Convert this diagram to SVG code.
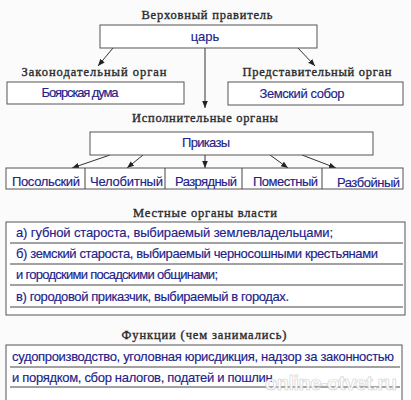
<svg xmlns="http://www.w3.org/2000/svg" width="411" height="400" viewBox="0 0 411 400">
<defs>
<marker id="ah" viewBox="0 0 10 10" refX="10" refY="5" markerWidth="7" markerHeight="7" orient="auto" markerUnits="userSpaceOnUse">
<path d="M0,1 L10,5 L0,9 Z" fill="#222"/>
</marker>
</defs>
<style>
.bg{fill:#fbfbfb}
.box{fill:#fff;stroke:#555;stroke-width:1}
.h{font-family:"Liberation Serif","DejaVu Serif",serif;font-size:12.5px;font-weight:normal;fill:#2a2a2a;stroke:#2a2a2a;stroke-width:0.35;text-anchor:middle}
.t{font-family:"Liberation Sans",Arial,sans-serif;font-size:13px;fill:#22228a;stroke:#22228a;stroke-width:0.15}
.c{text-anchor:middle}
.ln{stroke:#444;stroke-width:1}
.ar{stroke:#333;stroke-width:1;fill:none;marker-end:url(#ah)}
.wm{font-family:"Liberation Sans",Arial,sans-serif;font-size:20px;font-weight:bold;fill:#fff;stroke:#c8c8c8;stroke-width:0.6;opacity:0.9}
</style>
<rect class="bg" x="0" y="0" width="411" height="400"/>

<g id="headings">
<text class="h" x="207" y="19" textLength="131">Верховный правитель</text>
<text class="h" x="94" y="76" textLength="145">Законодательный орган</text>
<text class="h" x="317" y="76" textLength="149">Представительный орган</text>
<text class="h" x="205" y="122" textLength="146">Исполнительные органы</text>
<text class="h" x="205" y="217" textLength="144">Местные органы власти</text>
<text class="h" x="204" y="339" textLength="165">Функции (чем занимались)</text>
</g>

<g id="connectors">
<line class="ar" x1="113" y1="48" x2="98" y2="66"/>
<line class="ar" x1="298" y1="48" x2="315" y2="66"/>
<line class="ar" x1="205" y1="48" x2="205" y2="108"/>
<line class="ar" x1="110" y1="155" x2="72" y2="168"/>
<line class="ar" x1="143" y1="155" x2="127" y2="168"/>
<line class="ar" x1="205" y1="155" x2="205" y2="168"/>
<line class="ar" x1="270" y1="155" x2="288" y2="168"/>
<line class="ar" x1="302" y1="155" x2="336" y2="168"/>
</g>

<g id="tsar">
<rect class="box" x="100" y="25" width="217" height="23"/>
<text class="t c" x="205" y="41">царь</text>
</g>
<g id="boyar-duma">
<rect class="box" x="7" y="82" width="177" height="22"/>
<text class="t c" x="80" y="97" textLength="77">Боярская дума</text>
</g>
<g id="zemsky-sobor">
<rect class="box" x="228" y="82" width="175" height="23"/>
<text class="t c" x="302" y="98" textLength="85">Земский собор</text>
</g>
<g id="prikazy">
<rect class="box" x="90" y="132" width="283" height="23"/>
<text class="t c" x="206" y="147" textLength="48">Приказы</text>
</g>
<g id="prikazy-row">
<rect class="box" x="6" y="168" width="397" height="21"/>
<line class="ln" x1="85" y1="168" x2="85" y2="189"/>
<line class="ln" x1="165" y1="168" x2="165" y2="189"/>
<line class="ln" x1="242" y1="168" x2="242" y2="189"/>
<line class="ln" x1="322" y1="168" x2="322" y2="189"/>
<text class="t c" x="46" y="186" textLength="68">Посольский</text>
<text class="t c" x="126.5" y="186" textLength="73">Челобитный</text>
<text class="t c" x="206" y="186" textLength="62">Разрядный</text>
<text class="t c" x="285.5" y="186" textLength="65">Поместный</text>
<text class="t c" x="368.5" y="187" textLength="63">Разбойный</text>
</g>
<g id="local">
<rect class="box" x="6" y="222" width="399" height="93"/>
<line class="ln" x1="10" y1="243" x2="403" y2="243"/>
<line class="ln" x1="10" y1="264" x2="403" y2="264"/>
<line class="ln" x1="10" y1="285" x2="403" y2="285"/>
<line class="ln" x1="10" y1="307" x2="403" y2="307"/>
<text class="t" x="16" y="237" textLength="317">а) губной староста, выбираемый землевладельцами;</text>
<text class="t" x="16" y="258" textLength="362">б) земский староста, выбираемый черносошными крестьянами</text>
<text class="t" x="16" y="279" textLength="202">и городскими посадскими общинами;</text>
<text class="t" x="16" y="301" textLength="273">в) городовой приказчик, выбираемый в городах.</text>
</g>
<g id="functions">
<rect class="box" x="6" y="345" width="396" height="60"/>
<line class="ln" x1="10" y1="367" x2="400" y2="367"/>
<line class="ln" x1="10" y1="387" x2="400" y2="387"/>
<text class="t" x="12" y="361" textLength="382">судопроизводство, уголовная юрисдикция, надзор за законностью</text>
<text class="t" x="12" y="382" textLength="264">и порядком, сбор налогов, податей и пошлин.</text>
</g>
<text class="wm" x="265" y="390" textLength="132">online-otvet.ru</text>
</svg>
